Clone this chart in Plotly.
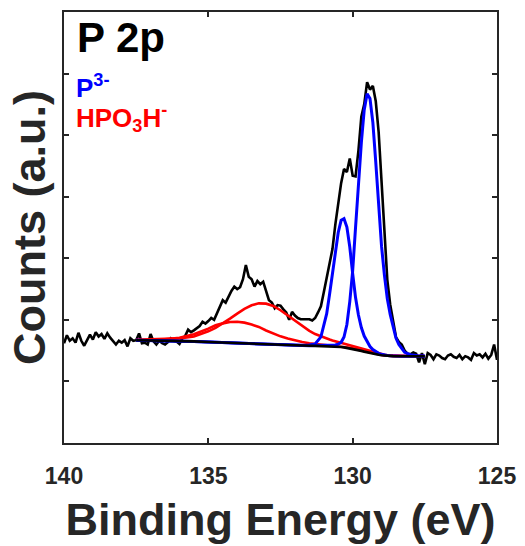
import numpy as np
import plotly.graph_objects as go

# ---------------- data (arbitrary intensity units) -------------
binding_energy = np.round(np.linspace(140.0, 125.0, 151), 1)   # 0.1 eV steps, 140 -> 125

counts = [
    1.62, 1.75, 1.66, 1.70, 1.63, 1.79, 1.66, 1.58, 1.67, 1.76,   # 140.0 - 139.1
    1.68, 1.80, 1.73, 1.77, 1.69, 1.78, 1.71, 1.65, 1.60, 1.66,   # 139.0 - 138.1
    1.63, 1.67, 1.57, 1.70, 1.66, 1.67, 1.78, 1.62, 1.63, 1.60,   # 138.0 - 137.1
    1.77, 1.65, 1.60, 1.66, 1.62, 1.60, 1.64, 1.70, 1.66, 1.65,   # 137.0 - 136.1
    1.61, 1.70, 1.74, 1.84, 1.80, 1.83, 1.86, 1.90, 1.97, 1.94,   # 136.0 - 135.1
    1.98, 2.03, 2.00, 2.10, 2.22, 2.32, 2.28, 2.38, 2.47, 2.54,   # 135.0 - 134.1
    2.50, 2.53, 2.66, 2.89, 2.70, 2.66, 2.54, 2.63, 2.58, 2.62,   # 134.0 - 133.1
    2.48, 2.32, 2.28, 2.19, 2.24, 2.23, 2.17, 2.12, 2.00, 2.13,   # 133.0 - 132.1
    2.07, 2.03, 2.01, 2.01, 2.00, 2.01, 1.99, 2.03, 2.12, 2.22,   # 132.0 - 131.1
    2.45, 2.68, 2.90, 3.15, 3.55, 3.92, 4.22, 4.45, 4.40, 4.62,   # 131.0 - 130.1
    4.34, 4.33, 4.75, 5.30, 5.50, 5.86, 5.74, 5.80, 5.55, 5.05,   # 130.0 - 129.1
    4.20, 3.40, 2.65, 2.25, 1.95, 1.72, 1.64, 1.60, 1.50, 1.45,   # 129.0 - 128.1
    1.44, 1.47, 1.45, 1.31, 1.46, 1.28, 1.46, 1.43, 1.36, 1.44,   # 128.0 - 127.1
    1.42, 1.38, 1.36, 1.42, 1.44, 1.40, 1.38, 1.43, 1.36, 1.41,   # 127.0 - 126.1
    1.39, 1.35, 1.46, 1.42, 1.44, 1.39, 1.45, 1.37, 1.43, 1.60,   # 126.0 - 125.1
    1.35,                                                         # 125.0
]

fit_be = [137.5, 137.0, 136.5, 136.0, 135.5, 135.0, 134.75, 134.5, 134.25, 134.0,
          133.75, 133.5, 133.25, 133.0, 132.75, 132.5, 132.25, 132.0, 131.75, 131.5,
          131.3, 131.1, 130.9, 130.8, 130.7, 130.6, 130.5, 130.4, 130.3, 130.2,
          130.1, 130.0, 129.9, 129.8, 129.7, 129.6, 129.5, 129.4, 129.3, 129.2,
          129.1, 129.0, 128.9, 128.8, 128.7, 128.6, 128.5, 128.4, 128.3, 128.2,
          128.0, 127.75, 127.5]

background = [1.670, 1.668, 1.665, 1.660, 1.650, 1.640, 1.635, 1.630, 1.625, 1.620,
              1.615, 1.610, 1.605, 1.600, 1.595, 1.590, 1.587, 1.585, 1.582, 1.580,
              1.578, 1.576, 1.573, 1.571, 1.569, 1.566, 1.563, 1.559, 1.553, 1.545,
              1.537, 1.528, 1.518, 1.508, 1.496, 1.484, 1.472, 1.460, 1.449, 1.440,
              1.432, 1.425, 1.419, 1.415, 1.413, 1.411, 1.410, 1.410, 1.410, 1.410,
              1.410, 1.410, 1.410]

hpo3h_main = [1.677, 1.681, 1.689, 1.700, 1.730, 1.814, 1.870, 1.942, 2.020, 2.102,
              2.178, 2.236, 2.268, 2.263, 2.225, 2.156, 2.073, 1.984, 1.897, 1.821,
              1.769, 1.730, 1.697, 1.682, 1.666, 1.653, 1.640, 1.626, 1.613, 1.600,
              1.587, 1.574, 1.560, 1.546, 1.531, 1.516, 1.501, 1.486, 1.472, 1.461,
              1.450, 1.440, 1.432, 1.426, 1.423, 1.419, 1.417, 1.415, 1.415, 1.414,
              1.413, 1.412, 1.411]

hpo3h_minor = [1.674, 1.677, 1.686, 1.709, 1.766, 1.857, 1.912, 1.943, 1.965, 1.970,
               1.955, 1.923, 1.885, 1.828, 1.779, 1.732, 1.696, 1.664, 1.640, 1.621,
               1.611, 1.602, 1.594, 1.590, 1.587, 1.582, 1.578, 1.572, 1.565, 1.556,
               1.547, 1.537, 1.526, 1.516, 1.503, 1.490, 1.478, 1.465, 1.453, 1.444,
               1.436, 1.428, 1.422, 1.417, 1.415, 1.413, 1.411, 1.411, 1.411, 1.411,
               1.410, 1.410, 1.410]

p3_main = [1.670, 1.668, 1.665, 1.660, 1.650, 1.640, 1.635, 1.630, 1.625, 1.620,
           1.615, 1.610, 1.605, 1.600, 1.595, 1.590, 1.587, 1.585, 1.582, 1.580,
           1.582, 1.582, 1.581, 1.584, 1.586, 1.591, 1.605, 1.635, 1.722, 1.925,
           2.297, 2.794, 3.501, 4.209, 4.872, 5.409, 5.671, 5.596, 5.205, 4.563,
           3.837, 3.197, 2.727, 2.343, 2.088, 1.875, 1.705, 1.600, 1.537, 1.473,
           1.435, 1.418, 1.414]

p3_minor = [1.670, 1.668, 1.665, 1.660, 1.650, 1.640, 1.635, 1.630, 1.625, 1.620,
            1.615, 1.610, 1.605, 1.600, 1.595, 1.590, 1.587, 1.585, 1.586, 1.591,
            1.610, 1.724, 2.101, 2.415, 2.772, 3.127, 3.420, 3.616, 3.642, 3.507,
            3.183, 2.752, 2.362, 2.078, 1.876, 1.737, 1.641, 1.566, 1.517, 1.482,
            1.457, 1.440, 1.427, 1.421, 1.417, 1.413, 1.410, 1.410, 1.410, 1.410,
            1.410, 1.410, 1.410]

x_ticks = [140, 135, 130, 125]
y_ticks = [1, 2, 3, 4, 5, 6]

FONT = "Liberation Sans, Arial, Helvetica, sans-serif"
AX = "#262626"

fig = go.Figure()
fig.add_trace(go.Scatter(x=binding_energy, y=counts, mode="lines",
                         line=dict(color="#000000", width=2.6), name="data"))
fig.add_trace(go.Scatter(x=fit_be, y=hpo3h_main, mode="lines",
                         line=dict(color="#ff0000", width=2.6), name="HPO3H- a"))
fig.add_trace(go.Scatter(x=fit_be, y=hpo3h_minor, mode="lines",
                         line=dict(color="#ff0000", width=2.6), name="HPO3H- b"))
fig.add_trace(go.Scatter(x=fit_be, y=p3_minor, mode="lines",
                         line=dict(color="#0000ff", width=3.0), name="P3- b"))
fig.add_trace(go.Scatter(x=fit_be, y=p3_main, mode="lines",
                         line=dict(color="#0000ff", width=3.0), name="P3- a"))
fig.add_trace(go.Scatter(x=fit_be, y=background, mode="lines",
                         line=dict(color="#000000", width=2.6), name="background"))

fig.update_layout(
    width=525, height=546,
    margin=dict(l=64, r=28, t=11.5, b=102.6, autoexpand=False),
    paper_bgcolor="white", plot_bgcolor="white",
    showlegend=False,
    font=dict(family=FONT, color=AX),
)
fig.update_xaxes(
    range=[140, 125], tickvals=x_ticks, ticktext=["<b>%d</b>" % t for t in x_ticks],
    ticks="inside", ticklen=5, tickwidth=2, tickcolor=AX,
    showline=True, linewidth=2.4, linecolor=AX, mirror="allticks",
    showgrid=False, zeroline=False,
    tickfont=dict(size=23, family=FONT, color=AX),
    ticklabelstandoff=11,
    title=dict(text="<b>Binding Energy (eV)</b>", font=dict(size=45, family=FONT, color=AX),
               standoff=16),
)
fig.update_yaxes(
    range=[0, 7], tickvals=y_ticks, showticklabels=False,
    ticks="inside", ticklen=5, tickwidth=2, tickcolor=AX,
    showline=True, linewidth=2.4, linecolor=AX, mirror="allticks",
    showgrid=False, zeroline=False,
    title=dict(text="<b>Counts (a.u.)</b>", font=dict(size=45, family=FONT, color=AX),
               standoff=2),
)

fig.add_annotation(xref="paper", yref="paper", x=0.025, y=0.94, xanchor="left", yanchor="middle",
                   text="<b>P 2p</b>", showarrow=False, font=dict(size=42, family=FONT, color="#000000"))
fig.add_annotation(xref="paper", yref="paper", x=0.026, y=0.826, xanchor="left", yanchor="middle",
                   text="<b>P<sup>3-</sup></b>", showarrow=False, borderpad=0,
                   font=dict(size=26, family=FONT, color="#0000ff"))
fig.add_annotation(xref="paper", yref="paper", x=0.026, y=0.755, xanchor="left", yanchor="middle",
                   text="<b>HPO<sub>3</sub>H<sup>-</sup></b>", showarrow=False, borderpad=0,
                   font=dict(size=26, family=FONT, color="#ff0000"))

fig.write_html("out.html", config={"displayModeBar": False},
               post_script="document.body.style.margin='0px';")
